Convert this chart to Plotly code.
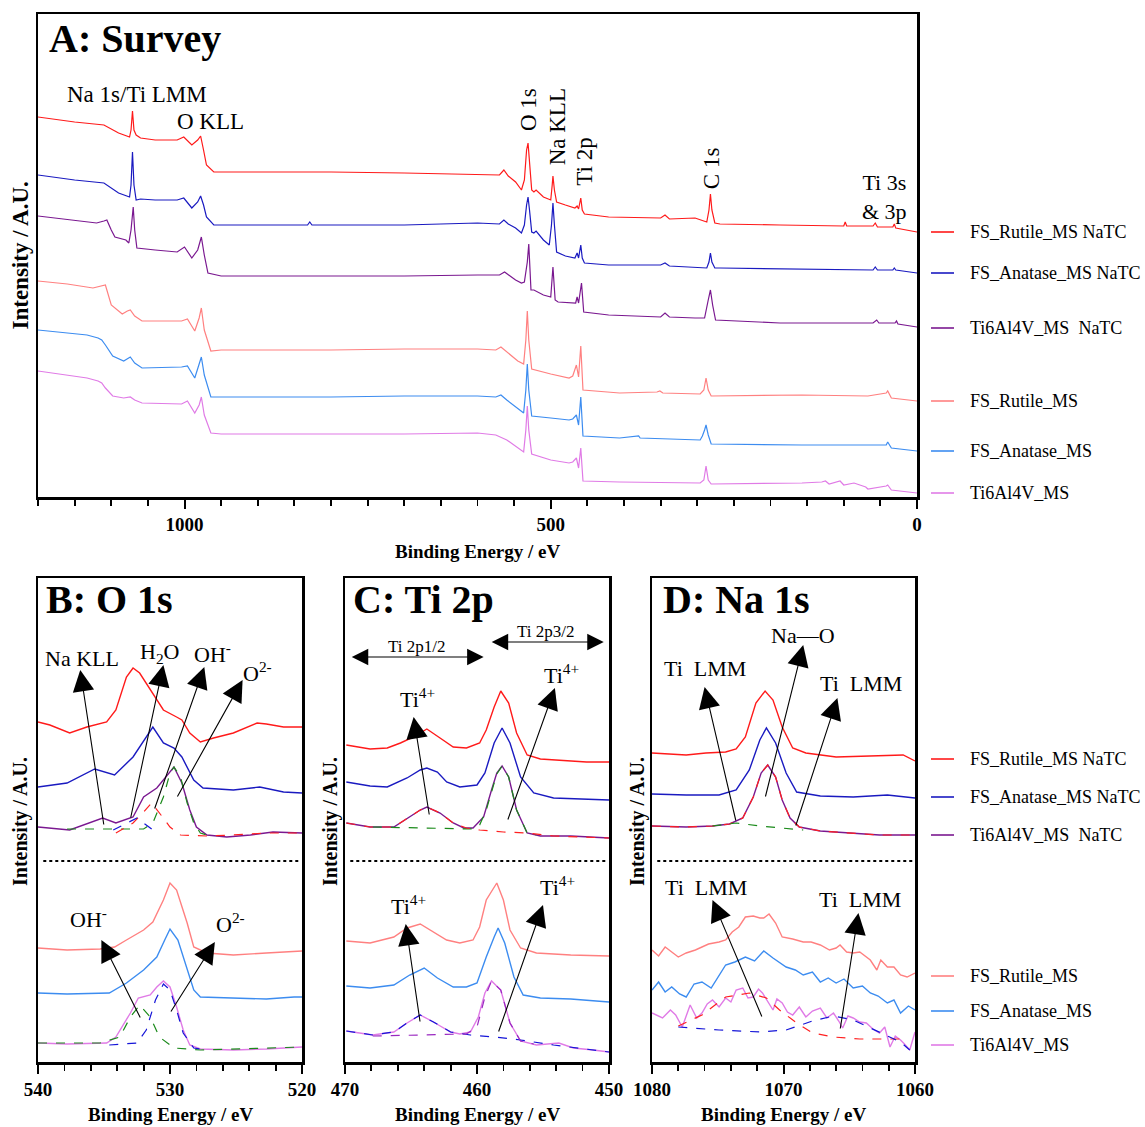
import plotly.graph_objects as go

W, H = 1145, 1127
SERIF = "Liberation Serif, Times New Roman, serif"

RED = "#FF1A1A"
NAVY = "#1A1AC0"
PURPLE = "#7A1890"
SALMON = "#FF8080"
SKY = "#3C8CF0"
ORCHID = "#E07BE6"
G_D = "#1A8A1A"
R_D = "#FF2020"
B_D = "#1515D8"
P_D = "#9A28C0"

# ---------------- Panel A: survey ----------------
a_rnatc_x = [1200,1150,1110,1090,1075,1073,1071,1069,1066,1060,1040,1010,1001,990,982,978,974,970,960,950,
             800,700,600,570,564,558,548,540,536,533,531,529,526,523,520,510,500,498,497,495,
             492,480,467,464,462,459,457,454,421,350,344,338,303,287,284,282,280,276,269,187,
             100,98,96,60,57,54,33,31,29,0]
a_rnatc_y = [380,375,372,364,360,367,386,367,362,359,357,357,360,352,357,361,347,332,325,325,
             325,324,323,322,327,321,315,307,317,347,354,337,307,305,307,300,297,312,321,307,
             295,292,289,291,288,299,287,283,280,279,282,278,279,275,287,303,287,274,273,272,
             271,275,271,271,274,270,270,273,269,265]

a_anatc_x = [1200,1150,1110,1090,1075,1073,1071,1069,1066,1060,1040,1010,1001,990,982,978,974,970,960,950,
             832,829,826,700,600,570,564,558,548,540,536,533,531,529,526,523,520,510,502,499,
             497,495,492,480,467,464,462,459,457,454,421,350,344,338,303,287,284,282,280,276,
             269,187,60,57,54,33,31,29,0]
a_anatc_y = [322,317,314,304,300,312,345,312,297,298,297,297,299,289,295,301,292,280,272,272,
             272,275,272,272,274,273,277,273,269,264,272,292,300,287,265,264,266,257,252,272,
             294,272,245,241,239,244,239,252,239,234,232,232,234,231,230,229,235,244,235,229,
             229,228,227,230,227,227,229,227,224]

a_tnatc_x = [1200,1150,1120,1110,1106,1100,1095,1080,1076,1073,1070,1068,1065,1040,1010,1000,990,982,977,973,
             968,950,800,700,600,570,563,556,548,540,536,532,530,527,523,510,500,497,494,490,
             466,464,462,458,455,421,350,344,338,303,290,285,282,279,275,187,60,55,52,30,
             28,26,0]
a_tnatc_y = [281,277,274,276,277,267,260,257,254,267,290,267,249,247,245,250,239,247,260,242,
             224,221,221,221,222,222,225,221,217,214,215,235,253,207,207,202,200,230,197,195,
             194,200,194,214,185,182,180,184,180,179,179,197,207,192,177,174,174,177,174,174,
             176,173,170]

a_rms_x = [1200,1160,1125,1112,1108,1100,1085,1078,1074,1068,1058,1004,996,986,980,977,973,964,950,800,
           700,600,575,568,560,545,537,534,532,530,526,500,475,470,465,462,459,456,406,355,
           351,347,296,291,288,285,281,157,67,42,40,38,35,0]
a_rms_y = [216,213,209,211,212,192,183,186,187,181,176,176,178,166,179,189,167,146,147,147,
           148,148,147,150,145,136,133,157,186,157,128,123,119,121,132,120,151,107,104,105,
           106,104,103,107,119,107,101,102,101,104,106,103,99,96]

a_ams_x = [1200,1160,1133,1118,1113,1108,1098,1083,1074,1068,1058,1004,996,986,980,977,973,964,950,800,
           700,600,575,568,560,545,537,534,532,530,526,500,475,470,465,462,459,456,406,380,
           378,296,293,290,288,285,281,157,67,42,40,38,35,0]
a_ams_y = [167,164,162,159,157,152,141,136,140,134,129,130,131,119,132,140,122,100,100,100,
           101,101,100,102,97,89,84,107,133,107,81,79,77,78,82,72,100,61,59,61,
           59,57,61,67,72,62,53,52,52,52,55,52,49,46]

a_tms_x = [1200,1160,1133,1118,1113,1108,1098,1083,1074,1068,1058,1004,996,986,980,977,973,964,950,800,
           700,600,575,560,545,537,534,532,530,526,500,475,470,465,462,459,456,406,296,291,
           288,285,281,157,130,125,120,105,100,86,70,67,42,40,38,35,0]
a_tms_y = [126,122,119,116,114,109,101,99,100,97,94,93,96,84,92,100,82,64,63,63,
           63,64,62,57,49,45,67,91,67,43,37,34,35,39,29,49,16,15,14,17,
           31,17,13,14,15,16,13,16,12,14,10,8,11,12,10,7,4]

# ---------------- Panel B: O 1s ----------------
b_rnatc_x = [540,539.1,537.6,536.3,534.8,534.1,533.3,532.8,532.3,531.3,530.5,529.5,529.1,528.5,527.7,526.7,525.2,523.4,522.7,521.4,520]
b_rnatc_y = [340,337,329,335,340,352,385,394,389,369,352,345,342,329,320,324,329,339,338,335,335]
b_anatc_x = [540,537.8,535.7,534.2,532.8,531.3,530.5,529.7,529.1,528.2,527.5,525.2,523.2,521.4,520]
b_anatc_y = [275,279,293,287,305,335,319,314,305,282,274,272,275,270,269]
b_tnatc_x = [540,537.6,535.1,534.1,532.8,532.0,531.0,530.3,529.7,529.1,528.5,528.0,527.2,525.7,523.9,522.2,520]
b_tnatc_y = [235,232,244,239,245,265,274,285,295,279,252,235,227,225,227,230,229]
b_fit_o2_x = [537.8,532.0,531.3,530.5,530.0,529.7,529.2,528.7,528.2,527.7,527.2]
b_fit_o2_y = [233,233,239,265,289,295,285,259,239,229,227]
b_fit_oh_x = [534.1,532.8,532.0,531.4,530.8,530.0,529.2,527.2,525.2,522.7,520]
b_fit_oh_y = [229,239,250,259,249,235,227,226,227,229,229]
b_fit_h2o_x = [534.3,533.3,532.5,531.8,531.0]
b_fit_h2o_y = [232,239,244,237,229]

b_rms_x = [540,537.8,535.3,534.2,533.3,532.0,531.3,530.5,530.0,529.5,528.7,528.2,527.2,525.2,522.7,520.6,520]
b_rms_y = [114,112,113,115,122,132,140,162,179,172,139,115,109,107,109,111,111]
b_ams_x = [540,537.8,534.6,533.3,532.0,531.0,530.4,530.0,529.4,528.7,528.2,527.7,525.2,522.7,520.6,520]
b_ams_y = [69,68,69,79,92,105,122,133,122,92,72,65,64,63,65,65]
b_tms_x = [540,537.8,534.8,534.1,533.0,532.4,531.5,531.0,530.5,530.0,529.5,529.0,528.5,527.7,525.2,522.7,520]
b_tms_y = [19,18,19,25,49,64,67,75,81,75,55,32,17,13,12,13,15]
b_fit_ms_oh_x = [540,535.3,533.8,533.0,532.3,531.5,530.8,529.7,527.7,520]
b_fit_ms_oh_y = [19,19,25,45,57,45,25,14,12,15]
b_fit_ms_o2_x = [534.6,532.5,531.8,531.1,530.5,530.0,529.5,529.0,528.2,527.2]
b_fit_ms_o2_y = [17,19,32,62,78,72,52,29,14,12]

# ---------------- Panel C: Ti 2p ----------------
c_rnatc_x = [469.9,468.1,466.8,465.8,464.8,463.8,462.8,461.8,460.8,459.8,459.3,458.7,458.2,457.6,457.0,456.2,455.2,453.7,451.7,450]
c_rnatc_y = [317,313,314,319,325,333,324,315,314,319,332,355,371,359,329,307,303,302,300,300]
c_anatc_x = [469.9,468.1,466.8,465.3,464.3,463.8,463.0,462.3,461.3,460.0,459.4,458.7,458.1,457.5,456.7,455.7,454.2,451.7,450]
c_anatc_y = [280,276,275,284,292,294,290,280,275,277,289,319,334,319,285,269,264,263,262]
c_tnatc_x = [469.9,468.1,466.3,465.1,464.3,463.8,462.8,461.8,461.0,460.3,459.5,458.9,458.5,458.1,457.6,457.0,456.2,455.2,452.9,450]
c_tnatc_y = [239,235,235,245,252,255,249,239,234,234,245,272,289,296,285,252,229,226,226,224]
c_fit_p32_x = [467.9,464.3,460.3,459.8,459.3,458.9,458.5,458.1,457.6,457.0,456.2,455.5]
c_fit_p32_y = [235,234,233,237,252,270,288,296,285,252,229,227]
c_fit_p12_x = [469.9,468.1,466.3,465.1,464.3,463.8,462.8,461.8,460.8,459.8,458.0,456.2,454.2,450]
c_fit_p12_y = [239,235,235,245,252,255,249,239,234,232,230,229,226,224]

c_rms_x = [469.9,468.1,466.3,465.3,464.3,463.3,462.3,461.3,460.3,459.8,459.3,458.5,458.0,457.5,456.7,455.5,452.9,450]
c_rms_y = [121,119,125,134,138,130,122,119,122,135,162,179,162,132,114,109,107,106]
c_ams_x = [469.9,468.1,466.3,465.1,464.0,463.0,461.8,460.8,460.0,459.3,458.7,458.4,457.9,457.2,456.5,455.2,452.9,450]
c_ams_y = [76,74,77,87,94,84,75,75,79,105,125,134,119,85,67,64,63,60]
c_tms_x = [469.9,467.9,466.3,465.3,464.3,463.3,462.0,461.3,460.5,459.9,459.4,458.9,458.2,457.5,456.7,455.5,453.8,452.7,451.2,450]
c_tms_y = [31,27,30,39,47,40,30,28,30,45,69,81,72,39,21,17,19,14,12,10]
c_fit_ms_p12_x = [469.9,467.9,466.3,465.3,464.3,463.3,462.0,460.5,458.7,456.7,454.2,450]
c_fit_ms_p12_y = [31,27,30,39,47,40,30,27,25,22,17,10]
c_fit_ms_p32_x = [467.9,464.3,460.8,460.0,459.4,458.9,458.2,457.5,456.7,455.7]
c_fit_ms_p32_y = [26,27,28,35,65,81,72,39,21,18]

# ---------------- Panel D: Na 1s ----------------
d_rnatc_x = [1080,1077.4,1075.9,1074.4,1073.6,1072.9,1072.1,1071.4,1070.8,1070.1,1069.3,1068.3,1066.0,1063.4,1060.9,1060]
d_rnatc_y = [309,307,309,310,313,325,359,371,362,335,314,309,305,306,307,301]
d_anatc_x = [1080,1077.4,1074.9,1073.6,1072.6,1071.8,1071.3,1070.6,1069.8,1069.0,1067.2,1064.7,1062.1,1060]
d_anatc_y = [268,267,267,272,292,322,334,319,289,270,266,265,267,264]
d_tnatc_x = [1080,1077.4,1075.4,1074.1,1073.1,1072.3,1071.7,1071.2,1070.6,1070.1,1069.5,1068.8,1067.2,1064.7,1062.7,1060]
d_tnatc_y = [236,235,236,238,244,265,289,297,285,262,244,235,231,229,227,227]
d_fit_nao_x = [1080,1077.4,1075.4,1074.1,1073.1,1072.3,1071.7,1071.2,1070.6,1070.1,1069.5,1068.8,1067.2,1064.7,1062.7,1060]
d_fit_nao_y = [236,235,236,238,244,265,289,297,285,262,244,235,231,229,227,227]
d_fit_lmm_x = [1075.4,1073.6,1071.8,1070.3,1068.5]
d_fit_lmm_y = [236,239,236,234,232]

d_rms_x = [1080,1079.5,1079.0,1078.5,1078.0,1077.4,1076.7,1076.2,1075.7,1074.9,1074.4,1073.9,1073.4,1072.9,1072.3,
           1071.8,1071.5,1071.1,1070.6,1070.1,1069.3,1068.5,1067.9,1067.2,1066.5,1066.0,1065.7,1065.2,1064.7,
           1064.2,1063.4,1062.9,1062.6,1062.1,1061.6,1061.1,1060.6,1060]
d_rms_y = [112,106,115,110,105,109,112,115,118,120,122,130,135,145,146,144,144,148,139,125,123,120,120,117,112,
           114,117,110,109,110,102,92,102,95,95,87,85,89]
d_ams_x = [1080,1079.5,1079.0,1078.5,1077.9,1077.4,1076.8,1076.2,1075.5,1074.9,1074.4,1073.7,1072.9,1072.2,1071.5,
           1070.8,1070.2,1069.8,1069.1,1068.5,1067.8,1067.2,1066.6,1066.0,1065.4,1064.7,1064.0,1063.4,1062.8,
           1062.1,1061.6,1061.1,1060.5,1060]
d_ams_y = [72,80,70,75,68,65,78,80,74,87,97,100,105,101,111,104,99,95,92,87,90,80,84,79,83,74,76,69,66,59,62,49,56,52]
d_tms_x = [1080,1079.2,1078.6,1078.2,1077.7,1077.1,1076.6,1076.2,1075.8,1075.4,1074.9,1074.4,1074.0,1073.6,1073.1,
           1072.7,1072.3,1071.9,1071.6,1071.2,1070.8,1070.5,1070.1,1069.7,1069.3,1068.8,1068.3,1067.8,1067.2,
           1066.7,1066.2,1065.8,1065.5,1065.1,1064.7,1064.2,1063.7,1063.2,1062.7,1062.3,1061.9,1061.5,1061.1,
           1060.8,1060.4,1060]
d_tms_y = [49,44,52,47,35,57,44,49,58,62,55,64,60,72,74,64,65,73,69,60,52,63,59,50,47,55,45,51,54,
           44,49,41,34,46,44,40,39,33,29,35,15,26,22,18,12,30]
d_fit_ms1_x = [1078.0,1076.2,1074.4,1072.6,1071.3,1070.3,1069.0,1067.8,1066.2,1064.2,1062.1,1060.9]
d_fit_ms1_y = [36,47,65,69,64,52,39,29,25,23,23,23]
d_fit_ms2_x = [1078.0,1074.9,1071.8,1069.8,1067.8,1066.2,1064.7,1062.7,1061.1,1060.4]
d_fit_ms2_y = [35,32,30,32,41,46,42,30,20,12]

# ---------------- legend labels ----------------
natc_names = ["FS_Rutile_MS NaTC", "FS_Anatase_MS NaTC", "Ti6Al4V_MS\u00a0 NaTC"]
ms_names = ["FS_Rutile_MS", "FS_Anatase_MS", "Ti6Al4V_MS"]

fig = go.Figure()

def line(xs, ys, color, ax, width=1.3, dash="solid"):
    fig.add_trace(go.Scatter(x=xs, y=ys, mode="lines", xaxis="x" + ax, yaxis="y" + ax,
                             line=dict(color=color, width=width, dash=dash),
                             showlegend=False, hoverinfo="skip"))

# A
for xs, ys, c in [(a_rnatc_x, a_rnatc_y, RED), (a_anatc_x, a_anatc_y, NAVY), (a_tnatc_x, a_tnatc_y, PURPLE),
                  (a_rms_x, a_rms_y, SALMON), (a_ams_x, a_ams_y, SKY), (a_tms_x, a_tms_y, ORCHID)]:
    line(xs, ys, c, "", 1.2)
# B
line(b_rnatc_x, b_rnatc_y, RED, "2", 1.4)
line(b_anatc_x, b_anatc_y, NAVY, "2", 1.4)
line(b_tnatc_x, b_tnatc_y, PURPLE, "2", 1.4)
line(b_fit_o2_x, b_fit_o2_y, G_D, "2", 1.2, "dash")
line(b_fit_oh_x, b_fit_oh_y, R_D, "2", 1.2, "dash")
line(b_fit_h2o_x, b_fit_h2o_y, B_D, "2", 1.2, "dash")
line(b_rms_x, b_rms_y, SALMON, "2", 1.4)
line(b_ams_x, b_ams_y, SKY, "2", 1.4)
line(b_tms_x, b_tms_y, ORCHID, "2", 1.4)
line(b_fit_ms_oh_x, b_fit_ms_oh_y, G_D, "2", 1.2, "dash")
line(b_fit_ms_o2_x, b_fit_ms_o2_y, B_D, "2", 1.2, "dash")
# C
line(c_rnatc_x, c_rnatc_y, RED, "3", 1.4)
line(c_anatc_x, c_anatc_y, NAVY, "3", 1.4)
line(c_tnatc_x, c_tnatc_y, PURPLE, "3", 1.4)
line(c_fit_p32_x, c_fit_p32_y, G_D, "3", 1.2, "dash")
line(c_fit_p12_x, c_fit_p12_y, R_D, "3", 1.2, "dash")
line(c_rms_x, c_rms_y, SALMON, "3", 1.4)
line(c_ams_x, c_ams_y, SKY, "3", 1.4)
line(c_tms_x, c_tms_y, ORCHID, "3", 1.4)
line(c_fit_ms_p12_x, c_fit_ms_p12_y, B_D, "3", 1.2, "dash")
line(c_fit_ms_p32_x, c_fit_ms_p32_y, P_D, "3", 1.2, "dash")
# D
line(d_rnatc_x, d_rnatc_y, RED, "4", 1.4)
line(d_anatc_x, d_anatc_y, NAVY, "4", 1.4)
line(d_tnatc_x, d_tnatc_y, PURPLE, "4", 1.4)
line(d_fit_nao_x, d_fit_nao_y, R_D, "4", 1.2, "dash")
line(d_fit_lmm_x, d_fit_lmm_y, G_D, "4", 1.2, "dash")
line(d_rms_x, d_rms_y, SALMON, "4", 1.4)
line(d_ams_x, d_ams_y, SKY, "4", 1.4)
line(d_tms_x, d_tms_y, ORCHID, "4", 1.4)
line(d_fit_ms1_x, d_fit_ms1_y, R_D, "4", 1.2, "dash")
line(d_fit_ms2_x, d_fit_ms2_y, B_D, "4", 1.2, "dash")

# ---------------- axes ----------------
def px(v):
    return v / W

def py(v):
    return 1 - v / H

tickfont = dict(family=SERIF, size=19, color="black", weight="bold")

def xax(x0, x1, rng, dtick, minor):
    return dict(domain=[px(x0), px(x1)], range=rng, showline=True, mirror=True, linecolor="black",
                linewidth=2.5, ticks="outside", ticklen=9, tickwidth=2, tickcolor="black",
                dtick=dtick, tick0=0, tickfont=tickfont, showgrid=False, zeroline=False,
                automargin=False,
                minor=dict(ticks="outside", ticklen=6, tickwidth=1.8, tickcolor="black", dtick=minor, showgrid=False),
                fixedrange=True)

def yax(y0, y1, rng, anchor):
    return dict(domain=[py(y1), py(y0)], range=rng, showline=True, mirror=True, linecolor="black",
                linewidth=2.5, ticks="", showticklabels=False, showgrid=False, zeroline=False,
                automargin=False, anchor=anchor, fixedrange=True)

A_X0, A_X1, A_Y0, A_Y1 = 38, 917, 14, 497
B_X0, B_X1 = 38, 302
C_X0, C_X1 = 345, 609
D_X0, D_X1 = 652, 915
P_Y0, P_Y1 = 578, 1062

layout = dict(
    width=W, height=H, margin=dict(l=0, r=0, t=0, b=0, pad=0, autoexpand=False),
    paper_bgcolor="white", plot_bgcolor="white",
    xaxis=dict(xax(A_X0, A_X1, [1200, 0], 500, 50), anchor="y"),
    yaxis=yax(A_Y0, A_Y1, [0, A_Y1 - A_Y0], "x"),
    xaxis2=dict(xax(B_X0, B_X1, [540, 520], 10, 2), anchor="y2"),
    yaxis2=yax(P_Y0, P_Y1, [0, P_Y1 - P_Y0], "x2"),
    xaxis3=dict(xax(C_X0, C_X1, [470, 450], 10, 2), anchor="y3"),
    yaxis3=yax(P_Y0, P_Y1, [0, P_Y1 - P_Y0], "x3"),
    xaxis4=dict(xax(D_X0, D_X1, [1080, 1060], 10, 2), anchor="y4"),
    yaxis4=yax(P_Y0, P_Y1, [0, P_Y1 - P_Y0], "x4"),
    showlegend=False,
    font=dict(family=SERIF, color="black"),
)
fig.update_layout(**layout)

ann = []
shapes = []

def text(x, y, s, size, ax="", angle=0, bold=False, xanchor="center", yanchor="middle", ref=None):
    xr = ref[0] if ref else "x" + ax
    yr = ref[1] if ref else "y" + ax
    ann.append(dict(x=x, y=y, xref=xr, yref=yr, text=s, showarrow=False, textangle=angle,
                    xanchor=xanchor, yanchor=yanchor,
                    font=dict(family=SERIF, size=size, color="black", weight="bold" if bold else "normal")))

def arrow(ax, tail, head, size=3.9, width=1.1):
    ann.append(dict(x=head[0], y=head[1], xref="x" + ax, yref="y" + ax,
                    ax=tail[0], ay=tail[1], axref="x" + ax, ayref="y" + ax,
                    text="", showarrow=True, arrowhead=2, arrowsize=size, arrowwidth=width,
                    arrowcolor="black", standoff=0, startstandoff=0))

def dbl_arrow(ax, left, right, y):
    ann.append(dict(x=right, y=y, xref="x" + ax, yref="y" + ax, ax=left, ay=y,
                    axref="x" + ax, ayref="y" + ax, text="", showarrow=True,
                    arrowhead=2, startarrowhead=2, arrowside="end+start",
                    arrowsize=3.0, startarrowsize=3.0, arrowwidth=1.1, arrowcolor="black"))

# panel titles
text(0.010, 0.950, "A: Survey", 40, bold=True, xanchor="left", ref=("x domain", "y domain"))
text(0.022, 0.955, "B: O 1s", 40, bold=True, xanchor="left", ref=("x2 domain", "y2 domain"))
text(0.022, 0.955, "C: Ti 2p", 40, bold=True, xanchor="left", ref=("x3 domain", "y3 domain"))
text(0.034, 0.955, "D: Na 1s", 40, bold=True, xanchor="left", ref=("x4 domain", "y4 domain"))

# survey labels
text(1065, 403, "Na 1s/Ti LMM", 23)
text(965, 376, "O KLL", 23)
text(531, 387, "O 1s", 23, angle=-90)
text(491, 370, "Na KLL", 23, angle=-90)
text(455, 335, "Ti 2p", 23, angle=-90)
text(281, 329, "C 1s", 23, angle=-90)
text(44, 300, "Ti 3s<br>& 3p", 22)

# panel B
text(536.7, 404, "Na KLL", 22, "2")
text(530.8, 409, "H<sub>2</sub>O", 22, "2")
text(526.8, 409, "OH<sup>-</sup>", 22, "2")
text(523.4, 390, "O<sup>2-</sup>", 22, "2")
arrow("2", (535.0, 236), (536.8, 392))
arrow("2", (533.0, 243), (530.5, 397))
arrow("2", (531.2, 252), (527.4, 395))
arrow("2", (529.5, 264), (524.5, 382))
text(536.2, 144, "OH<sup>-</sup>", 22, "2")
text(525.4, 139, "O<sup>2-</sup>", 22, "2")
arrow("2", (532.2, 43), (535.2, 122))
arrow("2", (530.0, 49), (526.6, 120))

# panel C
dbl_arrow("3", 469.6, 459.5, 405)
text(464.6, 416, "Ti 2p1/2", 17, "3")
dbl_arrow("3", 459.0, 450.4, 420)
text(454.8, 431, "Ti 2p3/2", 17, "3")
text(464.5, 364, "Ti<sup>4+</sup>", 22, "3")
arrow("3", (463.6, 246), (464.8, 345))
text(453.6, 388, "Ti<sup>4+</sup>", 22, "3")
arrow("3", (457.7, 241), (454.1, 374))
text(465.2, 157, "Ti<sup>4+</sup>", 22, "3")
arrow("3", (464.3, 39), (465.4, 138))
text(453.9, 176, "Ti<sup>4+</sup>", 22, "3")
arrow("3", (458.4, 29), (455.0, 157))

# panel D
text(1076.0, 394, "Ti\u00a0\u00a0LMM", 22, "4")
text(1068.5, 427, "Na\u2014O", 22, "4")
text(1064.1, 379, "Ti\u00a0\u00a0LMM", 22, "4")
arrow("4", (1073.6, 240), (1076.0, 375))
arrow("4", (1071.4, 264), (1068.5, 417))
arrow("4", (1069.1, 235), (1065.9, 364))
text(1075.9, 175, "Ti\u00a0\u00a0LMM", 22, "4")
text(1064.2, 163, "Ti\u00a0\u00a0LMM", 22, "4")
arrow("4", (1071.6, 44), (1075.4, 162))
arrow("4", (1065.7, 32), (1064.3, 149))

# axis titles
for ax_id, xc in [("", (A_X0 + A_X1) / 2), ("2", (B_X0 + B_X1) / 2), ("3", (C_X0 + C_X1) / 2), ("4", (D_X0 + D_X1) / 2)]:
    ytit = 551 if ax_id == "" else 1114
    text(px(xc), py(ytit), "Binding Energy / eV", 19, bold=True, ref=("paper", "paper"))
text(px(20), py((A_Y0 + A_Y1) / 2), "Intensity / A.U.", 23, angle=-90, bold=True, ref=("paper", "paper"))
for xc in [20, 330, 637]:
    text(px(xc), py(822), "Intensity / A.U.", 20, angle=-90, bold=True, ref=("paper", "paper"))

# dotted separators
for ax_id in ["2", "3", "4"]:
    shapes.append(dict(type="line", xref="x%s domain" % ax_id, yref="y" + ax_id,
                       x0=0.02, x1=0.99, y0=P_Y1 - 861, y1=P_Y1 - 861,
                       line=dict(color="black", width=2, dash="dot")))

# legends
def legend_item(y_px, color, name):
    shapes.append(dict(type="line", xref="paper", yref="paper", x0=px(931), x1=px(954),
                       y0=py(y_px), y1=py(y_px), line=dict(color=color, width=1.6)))
    text(px(968), py(y_px), name, 18, xanchor="left", ref=("paper", "paper"))

for y_px, c, n in zip([232, 273, 328], [RED, NAVY, PURPLE], natc_names):
    legend_item(y_px, c, n)
for y_px, c, n in zip([401, 451, 493], [SALMON, SKY, ORCHID], ms_names):
    legend_item(y_px, c, n)
for y_px, c, n in zip([759, 797, 835], [RED, NAVY, PURPLE], natc_names):
    legend_item(y_px, c, n)
for y_px, c, n in zip([976, 1011, 1045], [SALMON, SKY, ORCHID], ms_names):
    legend_item(y_px, c, n)

fig.update_layout(annotations=ann, shapes=shapes)

fig.write_html("out.html", config={"displayModeBar": False, "staticPlot": True},
               post_script="document.body.style.margin='0px';")
